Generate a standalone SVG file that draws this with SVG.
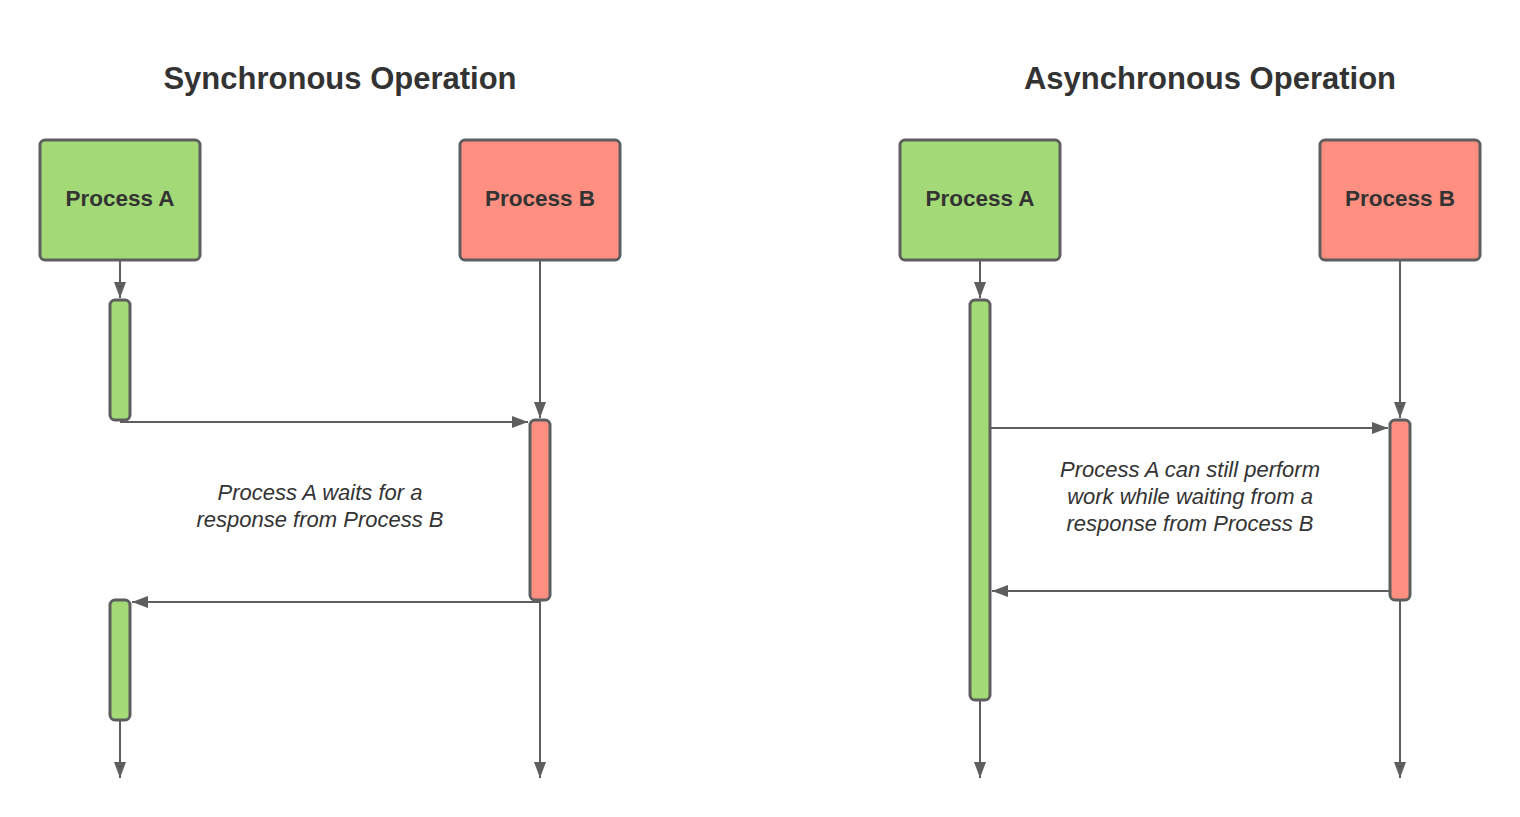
<svg xmlns="http://www.w3.org/2000/svg" width="1520" height="817" viewBox="0 0 1520 817">
<style>
.box{stroke:#5e5e5e;stroke-width:3}
.a{fill:#a3d977}
.b{fill:#ff8f80}
.ln{stroke:#5e5e5e;stroke-width:2;fill:none}
.t{font-family:"Liberation Sans",Arial,sans-serif;fill:#333;text-anchor:middle}
.title{font-size:31px;font-weight:bold}
.lbl{font-size:22.5px;font-weight:bold}
.note{font-size:22px;font-style:italic}
</style>
<defs>
<marker id="ah" viewBox="0 0 16 12" refX="16" refY="6" markerWidth="16" markerHeight="12" markerUnits="userSpaceOnUse" orient="auto">
<path d="M0,0 L16,6 L0,12 Z" fill="#5e5e5e"/>
</marker>
</defs>
<rect width="1520" height="817" fill="#fff"/>
<text class="t title" x="340" y="89">Synchronous Operation</text>
<text class="t title" x="1210" y="89">Asynchronous Operation</text>

<g id="connectors">
<line class="ln" x1="120" y1="261" x2="120" y2="298" marker-end="url(#ah)"/>
<line class="ln" x1="540" y1="261" x2="540" y2="418" marker-end="url(#ah)"/>
<line class="ln" x1="120" y1="422" x2="528" y2="422" marker-end="url(#ah)"/>
<line class="ln" x1="540" y1="602" x2="132" y2="602" marker-end="url(#ah)"/>
<line class="ln" x1="120" y1="721" x2="120" y2="778" marker-end="url(#ah)"/>
<line class="ln" x1="540" y1="601" x2="540" y2="778" marker-end="url(#ah)"/>
<line class="ln" x1="980" y1="261" x2="980" y2="298" marker-end="url(#ah)"/>
<line class="ln" x1="1400" y1="261" x2="1400" y2="418" marker-end="url(#ah)"/>
<line class="ln" x1="991" y1="428" x2="1388" y2="428" marker-end="url(#ah)"/>
<line class="ln" x1="1389" y1="591" x2="992" y2="591" marker-end="url(#ah)"/>
<line class="ln" x1="980" y1="701" x2="980" y2="778" marker-end="url(#ah)"/>
<line class="ln" x1="1400" y1="601" x2="1400" y2="778" marker-end="url(#ah)"/>
</g>

<g id="sync-process-a">
<rect class="box a" x="40" y="140" width="160" height="120" rx="5"/>
<text class="t lbl" x="120" y="206">Process A</text>
</g>
<g id="sync-process-b">
<rect class="box b" x="460" y="140" width="160" height="120" rx="5"/>
<text class="t lbl" x="540" y="206">Process B</text>
</g>
<g id="sync-a-act1"><rect class="box a" x="110" y="300" width="20" height="120" rx="5"/></g>
<g id="sync-b-act"><rect class="box b" x="530" y="420" width="20" height="180" rx="5"/></g>
<g id="sync-a-act2"><rect class="box a" x="110" y="600" width="20" height="120" rx="5"/></g>
<g id="sync-note">
<text class="t note" x="320" y="500">Process A waits for a</text>
<text class="t note" x="320" y="527">response from Process B</text>
</g>

<g id="async-process-a">
<rect class="box a" x="900" y="140" width="160" height="120" rx="5"/>
<text class="t lbl" x="980" y="206">Process A</text>
</g>
<g id="async-process-b">
<rect class="box b" x="1320" y="140" width="160" height="120" rx="5"/>
<text class="t lbl" x="1400" y="206">Process B</text>
</g>
<g id="async-a-act"><rect class="box a" x="970" y="300" width="20" height="400" rx="5"/></g>
<g id="async-b-act"><rect class="box b" x="1390" y="420" width="20" height="180" rx="5"/></g>
<g id="async-note">
<text class="t note" x="1190" y="477">Process A can still perform</text>
<text class="t note" x="1190" y="504">work while waiting from a</text>
<text class="t note" x="1190" y="531">response from Process B</text>
</g>
</svg>
